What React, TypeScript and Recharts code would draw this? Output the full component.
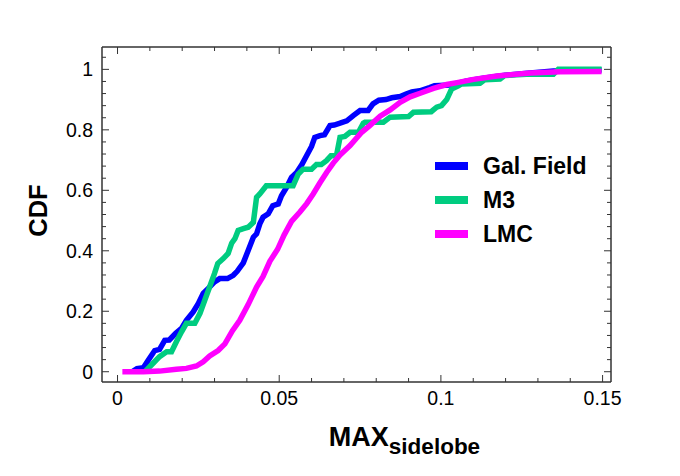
import React from 'react';
import { LineChart, Line, XAxis, YAxis, Legend } from 'recharts';

// values
const galFieldX = [0.0045, 0.006, 0.008, 0.0095, 0.0115, 0.013, 0.0146, 0.016, 0.018, 0.0198, 0.0213, 0.0234, 0.025, 0.0265, 0.028, 0.03, 0.0316, 0.034, 0.0358, 0.037, 0.0389, 0.0404, 0.042, 0.043, 0.044, 0.045, 0.0466, 0.048, 0.0497, 0.0507, 0.0523, 0.0538, 0.0554, 0.057, 0.0585, 0.06, 0.061, 0.0626, 0.064, 0.0657, 0.067, 0.0688, 0.0709, 0.073, 0.075, 0.0775, 0.079, 0.0808, 0.083, 0.0848, 0.0874, 0.0894, 0.091, 0.0935, 0.0965, 0.098, 0.1028, 0.108, 0.1131, 0.1193, 0.1276, 0.1348, 0.1497];
const galFieldY = [0, 0.01, 0.013, 0.038, 0.07, 0.074, 0.104, 0.105, 0.127, 0.143, 0.17, 0.198, 0.226, 0.259, 0.275, 0.297, 0.308, 0.308, 0.319, 0.332, 0.36, 0.401, 0.445, 0.456, 0.489, 0.511, 0.522, 0.549, 0.555, 0.582, 0.61, 0.643, 0.659, 0.685, 0.715, 0.745, 0.775, 0.781, 0.784, 0.814, 0.816, 0.822, 0.83, 0.848, 0.864, 0.864, 0.886, 0.898, 0.9, 0.906, 0.91, 0.919, 0.925, 0.929, 0.94, 0.946, 0.948, 0.962, 0.971, 0.98, 0.988, 0.995, 0.998];

const m3X = [0.0085, 0.011, 0.013, 0.0152, 0.0167, 0.0182, 0.0198, 0.0213, 0.0239, 0.0255, 0.027, 0.0285, 0.03, 0.031, 0.0327, 0.0342, 0.0353, 0.0363, 0.0373, 0.0389, 0.0404, 0.042, 0.043, 0.044, 0.046, 0.0543, 0.0559, 0.0574, 0.06, 0.0615, 0.063, 0.0646, 0.066, 0.0677, 0.0688, 0.0703, 0.0719, 0.0745, 0.076, 0.0765, 0.0822, 0.0843, 0.09, 0.0915, 0.097, 0.0987, 0.1002, 0.1018, 0.1033, 0.1054, 0.1064, 0.1121, 0.1136, 0.1183, 0.1198, 0.1265, 0.1348, 0.1363, 0.1497];
const m3Y = [0, 0.028, 0.05, 0.066, 0.066, 0.099, 0.132, 0.16, 0.16, 0.193, 0.237, 0.281, 0.325, 0.358, 0.374, 0.391, 0.425, 0.44, 0.467, 0.473, 0.478, 0.494, 0.577, 0.588, 0.615, 0.615, 0.654, 0.67, 0.67, 0.685, 0.685, 0.698, 0.714, 0.714, 0.775, 0.778, 0.792, 0.792, 0.822, 0.825, 0.825, 0.842, 0.844, 0.858, 0.86, 0.875, 0.88, 0.9, 0.935, 0.946, 0.952, 0.954, 0.966, 0.968, 0.98, 0.984, 0.984, 1.0, 1.0];

const lmcX = [0.0015, 0.008, 0.013, 0.0182, 0.0213, 0.0244, 0.0265, 0.0285, 0.0311, 0.0332, 0.0355, 0.0378, 0.0404, 0.043, 0.045, 0.0471, 0.0495, 0.0515, 0.0538, 0.0564, 0.0585, 0.0605, 0.0626, 0.0647, 0.0667, 0.0688, 0.0719, 0.0755, 0.078, 0.0812, 0.0843, 0.0874, 0.0905, 0.0936, 0.0977, 0.1018, 0.1054, 0.1101, 0.1173, 0.1276, 0.1369, 0.1497];
const lmcY = [0, 0, 0.002, 0.008, 0.011, 0.019, 0.033, 0.052, 0.07, 0.092, 0.135, 0.17, 0.222, 0.28, 0.315, 0.365, 0.405, 0.452, 0.497, 0.528, 0.556, 0.588, 0.625, 0.66, 0.69, 0.717, 0.748, 0.792, 0.814, 0.845, 0.866, 0.891, 0.909, 0.921, 0.937, 0.95, 0.957, 0.967, 0.978, 0.988, 0.992, 0.993];

const seriesNames = ['Gal. Field', 'M3', 'LMC'];
const seriesColors = ['#0000ff', '#00cc80', '#ff00ff'];

const xTicks = [0, 0.01, 0.02, 0.03, 0.04, 0.05, 0.06, 0.07, 0.08, 0.09, 0.1, 0.11, 0.12, 0.13, 0.14, 0.15];
const xLabels = [0, 0.05, 0.1, 0.15];
const yTicks = [0, 0.04, 0.08, 0.12, 0.16, 0.2, 0.24, 0.28, 0.32, 0.36, 0.4, 0.44, 0.48, 0.52, 0.56, 0.6, 0.64, 0.68, 0.72, 0.76, 0.8, 0.84, 0.88, 0.92, 0.96, 1, 1.04];
const yLabels = [0, 0.2, 0.4, 0.6, 0.8, 1];

const toRows = (xs: number[], ys: number[]) => xs.map((x, i) => ({ x, y: ys[i] }));
const series = [toRows(galFieldX, galFieldY), toRows(m3X, m3Y), toRows(lmcX, lmcY)];

const FONT = '"Liberation Sans", Arial, Helvetica, sans-serif';
const X_DOMAIN = [-0.0048, 0.1526];
const Y_DOMAIN = [-0.034, 1.074];
const isLabel = (labels: number[], v: number) => labels.some((l) => Math.abs(l - v) < 1e-9);
const fmt = (v: number) => String(Math.round(v * 100) / 100);

// inward tick marks, labels only on the major ticks
const makeTick = (side: 'bottom' | 'top' | 'left' | 'right') => (props: any) => {
  const { x, y, payload } = props;
  const v = payload.value;
  const major = isLabel(side === 'bottom' || side === 'top' ? xLabels : yLabels, v);
  const len = major ? 7 : 4;
  let line;
  if (side === 'bottom') line = <line x1={x} y1={y} x2={x} y2={y - len} stroke="#333" strokeWidth={1} />;
  else if (side === 'top') line = <line x1={x} y1={y} x2={x} y2={y + len} stroke="#333" strokeWidth={1} />;
  else if (side === 'left') line = <line x1={x} y1={y} x2={x + len} y2={y} stroke="#333" strokeWidth={1} />;
  else line = <line x1={x} y1={y} x2={x - len} y2={y} stroke="#333" strokeWidth={1} />;
  return (
    <g>
      {line}
      {major && side === 'bottom' && (
        <text x={x} y={y + 23} textAnchor="middle" fontSize={19.5} fontFamily={FONT} fill="#000">
          {fmt(v)}
        </text>
      )}
      {major && side === 'left' && (
        <text x={x - 9} y={y + 7} textAnchor="end" fontSize={19.5} fontFamily={FONT} fill="#000">
          {fmt(v)}
        </text>
      )}
    </g>
  );
};

const LegendBox = () => (
  <div style={{ fontFamily: FONT, fontWeight: 'bold', fontSize: 23 }}>
    {seriesNames.map((name, i) => (
      <div key={name} style={{ display: 'flex', alignItems: 'center', height: 34 }}>
        <div style={{ width: 33, height: 8, background: seriesColors[i], marginRight: 15 }} />
        <span style={{ lineHeight: '23px' }}>{name}</span>
      </div>
    ))}
  </div>
);

const axisLine = { stroke: '#333', strokeWidth: 1.5 };

export default function App() {
  return (
    <div style={{ position: 'fixed', top: 0, left: 0, width: 680, height: 476, background: '#fff' }}>
      <LineChart width={680} height={476} margin={{ top: 46, right: 68, bottom: 64, left: 62 }}>
        <XAxis
          type="number"
          dataKey="x"
          domain={X_DOMAIN}
          allowDataOverflow
          ticks={xTicks}
          interval={0}
          height={30}
          tickSize={0}
          tickMargin={0}
          tickLine={false}
          axisLine={axisLine}
          tick={makeTick('bottom')}
          label={{
            content: (p: any) => {
              const vb = p.viewBox;
              return (
                <text x={vb.x + vb.width / 2 + 48} y={vb.y + 64} textAnchor="middle" fontFamily={FONT} fontWeight="bold" fill="#000">
                  <tspan fontSize={27}>MAX</tspan>
                  <tspan fontSize={22.5} dy={8}>sidelobe</tspan>
                </text>
              );
            },
          }}
        />
        <XAxis
          xAxisId="top"
          orientation="top"
          type="number"
          dataKey="x"
          domain={X_DOMAIN}
          allowDataOverflow
          ticks={xTicks}
          interval={0}
          height={1}
          tickSize={0}
          tickMargin={0}
          tickLine={false}
          axisLine={axisLine}
          tick={makeTick('top')}
        />
        <YAxis
          type="number"
          domain={Y_DOMAIN}
          allowDataOverflow
          ticks={yTicks}
          interval={0}
          width={40}
          tickSize={0}
          tickMargin={0}
          tickLine={false}
          axisLine={axisLine}
          tick={makeTick('left')}
          label={{
            content: (p: any) => {
              const vb = p.viewBox;
              const cy = vb.y + vb.height / 2 - 4;
              return (
                <text x={38} y={cy} transform={`rotate(-90 38 ${cy})`} textAnchor="middle" dominantBaseline="central" fontFamily={FONT} fontWeight="bold" fontSize={25.5} fill="#000">
                  CDF
                </text>
              );
            },
          }}
        />
        <YAxis
          yAxisId="right"
          orientation="right"
          type="number"
          domain={Y_DOMAIN}
          allowDataOverflow
          ticks={yTicks}
          interval={0}
          width={1}
          tickSize={0}
          tickMargin={0}
          tickLine={false}
          axisLine={axisLine}
          tick={makeTick('right')}
        />
        {series.map((rows, i) => (
          <Line
            key={seriesNames[i]}
            data={rows}
            dataKey="y"
            name={seriesNames[i]}
            type="linear"
            stroke={seriesColors[i]}
            strokeWidth={5.5}
            strokeLinejoin="miter"
            dot={false}
            activeDot={false}
            isAnimationActive={false}
          />
        ))}
        <Legend
          layout="vertical"
          verticalAlign="middle"
          align="center"
          content={<LegendBox />}
          wrapperStyle={{ top: 149, left: 435, width: 220 }}
        />
      </LineChart>
    </div>
  );
}
